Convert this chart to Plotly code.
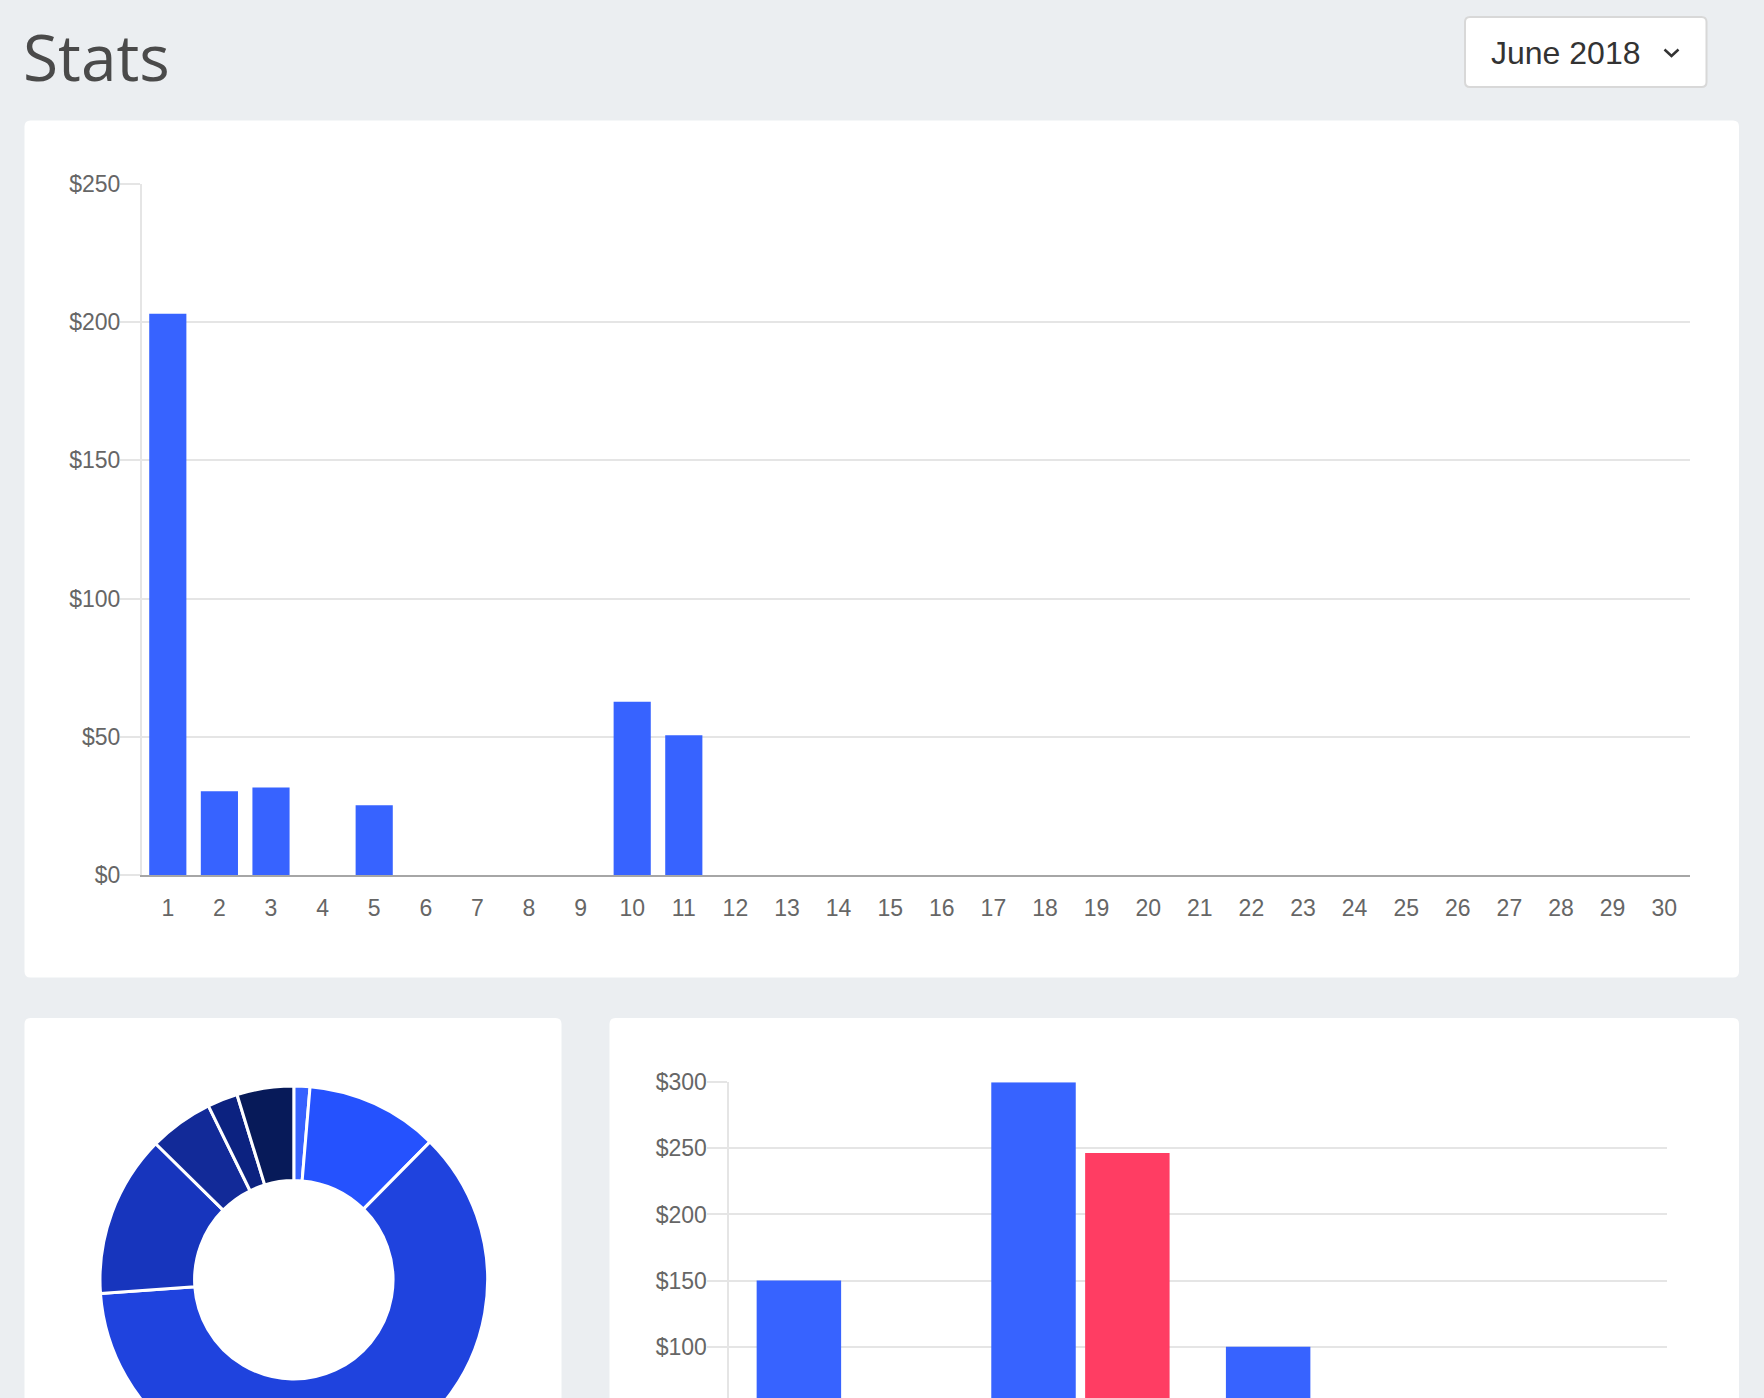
import plotly.graph_objects as go

W, H = 1764, 1560

# ---------------- data ----------------
days = [1, 2, 3, 4, 5, 6, 7, 8, 9, 10, 11, 12, 13, 14, 15,
        16, 17, 18, 19, 20, 21, 22, 23, 24, 25, 26, 27, 28, 29, 30]
daily_sales = [203.1, 30.3, 31.7, 0, 25.2, 0, 0, 0, 0, 62.7, 50.6, 0, 0, 0, 0,
               0, 0, 0, 0, 0, 0, 0, 0, 0, 0, 0, 0, 0, 0, 0]
top_ticks = [0, 50, 100, 150, 200, 250]
top_tick_text = ["$0", "$50", "$100", "$150", "$200", "$250"]

donut_labels = ["Slice 1", "Slice 2", "Slice 3", "Slice 4", "Slice 5", "Slice 6", "Slice 7"]
donut_values = [5.4, 44.6, 248.0, 54.5, 21.6, 10.2, 19.1]
donut_colors = ["#3762FF", "#2552FE", "#1F43DE", "#1735BD", "#122A98", "#0C2280", "#071A59"]

groups = [1, 2, 3, 4]
series_blue = [150, 300, 100, 0]
series_red = [0, 246.5, 0, 0]
bottom_ticks = [100, 150, 200, 250, 300]
bottom_tick_text = ["$100", "$150", "$200", "$250", "$300"]

title_text = "Stats"
month_text = "June 2018"

# ---------------- helpers (pixel -> paper) ----------------
def px(x):
    return x / W

def py(y):
    return 1 - y / H

def rounded_rect(x0, y0, x1, y1, r):
    X0, X1 = px(x0), px(x1)
    Y0, Y1 = py(y0), py(y1)
    rx, ry = r / W, r / H
    return (f"M {X0+rx},{Y0} L {X1-rx},{Y0} Q {X1},{Y0} {X1},{Y0-ry} "
            f"L {X1},{Y1+ry} Q {X1},{Y1} {X1-rx},{Y1} "
            f"L {X0+rx},{Y1} Q {X0},{Y1} {X0},{Y1+ry} "
            f"L {X0},{Y0-ry} Q {X0},{Y0} {X0+rx},{Y0} Z")

BLUE = "#3763FF"
RED = "#FF3D63"
GRID = "#E5E5E5"
TICKFONT = dict(family="Liberation Sans, Arial, Helvetica, sans-serif", size=23, color="#666666")

fig = go.Figure()

fig.add_trace(go.Bar(x=days, y=daily_sales, marker=dict(color=BLUE, line=dict(width=0)),
                     xaxis="x", yaxis="y", showlegend=False, hoverinfo="x+y"))

fig.add_trace(go.Pie(labels=donut_labels, values=donut_values, hole=0.512, sort=False,
                     direction="clockwise", rotation=0, textinfo="none",
                     marker=dict(colors=donut_colors, line=dict(color="white", width=3)),
                     domain=dict(x=[px(293.8 - 193.8), px(293.8 + 193.8)],
                                 y=[py(1279.8 + 193.8), py(1279.8 - 193.8)]),
                     showlegend=False))

fig.add_trace(go.Bar(x=groups, y=series_blue, marker=dict(color=BLUE, line=dict(width=0)),
                     xaxis="x2", yaxis="y2", showlegend=False))
fig.add_trace(go.Bar(x=groups, y=series_red, marker=dict(color=RED, line=dict(width=0)),
                     xaxis="x2", yaxis="y2", showlegend=False))

shapes = [
    dict(type="path", path=rounded_rect(24.5, 120.5, 1739, 977.5, 6), xref="paper", yref="paper",
         fillcolor="white", line=dict(width=0), layer="below"),
    dict(type="path", path=rounded_rect(24.5, 1018, 561.5, 1550, 6), xref="paper", yref="paper",
         fillcolor="white", line=dict(width=0), layer="below"),
    dict(type="path", path=rounded_rect(609.5, 1018, 1739, 1550, 6), xref="paper", yref="paper",
         fillcolor="white", line=dict(width=0), layer="below"),
    dict(type="path", path=rounded_rect(1465, 17, 1706.5, 87, 5), xref="paper", yref="paper",
         fillcolor="white", line=dict(color="#D8D8D8", width=2), layer="below"),
    dict(type="path", path=f"M {px(1664.5)},{py(49.5)} L {px(1671.5)},{py(56)} L {px(1678.5)},{py(49.5)}",
         xref="paper", yref="paper", line=dict(color="#333333", width=2.5)),
]

annotations = [
    dict(text=title_text, x=px(21), y=py(57), xref="paper", yref="paper",
         xanchor="left", yanchor="middle", showarrow=False,
         font=dict(family="Open Sans", size=64, color="#4A4A4A", weight=400)),
    dict(text=month_text, x=px(1489), y=py(53), xref="paper", yref="paper",
         xanchor="left", yanchor="middle", showarrow=False,
         font=dict(family="Liberation Sans, Arial, sans-serif", size=32, color="#333333")),
]

fig.update_layout(
    template="none",
    width=W, height=H, autosize=False,
    margin=dict(l=0, r=0, t=0, b=0, pad=0, autoexpand=False),
    paper_bgcolor="#EBEEF1", plot_bgcolor="rgba(0,0,0,0)",
    bargap=0.2, bargroupgap=0.1, barmode="group",
    shapes=shapes, annotations=annotations,
    xaxis=dict(domain=[px(142), px(1690)], range=[0.5, 30.5], tickmode="array",
               tickvals=days, ticktext=[str(d) for d in days], showgrid=False,
               zeroline=False, showline=True, linecolor="#A6A6A6", linewidth=2,
               ticks="", ticklabelstandoff=11, tickfont=TICKFONT, fixedrange=True,
               automargin=False),
    yaxis=dict(domain=[py(875), py(184)], range=[0, 250], tickmode="array",
               tickvals=top_ticks, ticktext=top_tick_text, showgrid=True,
               gridcolor=GRID, gridwidth=2, zeroline=False, showline=True,
               linecolor=GRID, linewidth=2, ticks="outside", ticklen=20,
               tickcolor=GRID, tickwidth=2, tickfont=TICKFONT, fixedrange=True,
               ticklabelstandoff=-5, automargin=False),
    xaxis2=dict(domain=[px(728.5), px(1667)], range=[0.5, 4.5], tickmode="array",
                tickvals=groups, showticklabels=False, showgrid=False, zeroline=False,
                showline=True, linecolor="#A6A6A6", linewidth=2, ticks="", fixedrange=True,
                anchor="y2", automargin=False),
    yaxis2=dict(domain=[py(1478.8), py(1082.3)], range=[0, 300], tickmode="array",
                tickvals=bottom_ticks, ticktext=bottom_tick_text, showgrid=True,
                gridcolor=GRID, gridwidth=2, zeroline=False, showline=True,
                linecolor=GRID, linewidth=2, ticks="outside", ticklen=20,
                tickcolor=GRID, tickwidth=2, tickfont=TICKFONT, fixedrange=True,
                ticklabelstandoff=-5, anchor="x2", automargin=False),
)

fig.write_html("out.html", config={"displayModeBar": False})
